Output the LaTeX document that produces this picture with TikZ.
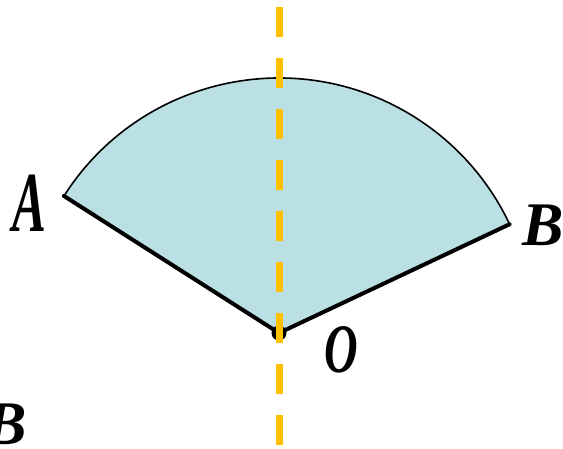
\documentclass[tikz,border=0pt]{standalone}
\usepackage{fontspec}
\setmainfont{Liberation Serif}[BoldItalicFont={Liberation Serif Bold Italic}]
\usepackage{xcolor}
\usetikzlibrary{calc}

\definecolor{sectorfill}{HTML}{BBE0E3}
\definecolor{axisgold}{HTML}{FFC000}

\begin{document}
\begin{tikzpicture}[
  x=1pt, y=1pt,
  lbl/.style={inner sep=0pt, font=\fontsize{62}{62}\selectfont\bfseries\itshape},
  radius line/.style={line width=4pt, line cap=round},
  rim/.style={line width=1.6pt},
  axis/.style={draw=axisgold, line width=7pt, dash pattern=on 30pt off 21pt}
]
\useasboundingbox (0,0) rectangle (563,448);

\coordinate (O) at (279,115);
\coordinate (A) at ($(O)+(147.5:255)$);
\coordinate (B) at ($(O)+(25.25:255)$);
\coordinate (top) at (279,441);
\coordinate (bot) at (279,3);

% sector
\fill[sectorfill] (O) -- (A) arc[start angle=147.5, end angle=25.25, radius=255] -- cycle;
\draw[rim] (A) arc[start angle=147.5, end angle=25.25, radius=255];
\draw[radius line] (A) -- (O) -- (B);
\fill (O) circle (7.5);

% symmetry axis
\draw[axis] (top) -- (bot);

% labels
\node[lbl, xscale=0.82, yscale=1.38] (lA) at (29,245) {A};
\node[lbl] (lB) at (543,223) {B};
\node[lbl, xscale=0.75, yscale=1.12] (lO) at (341,98) {O};
\node[lbl] (lBb) at (6,24) {B};

\end{tikzpicture}
\end{document}
